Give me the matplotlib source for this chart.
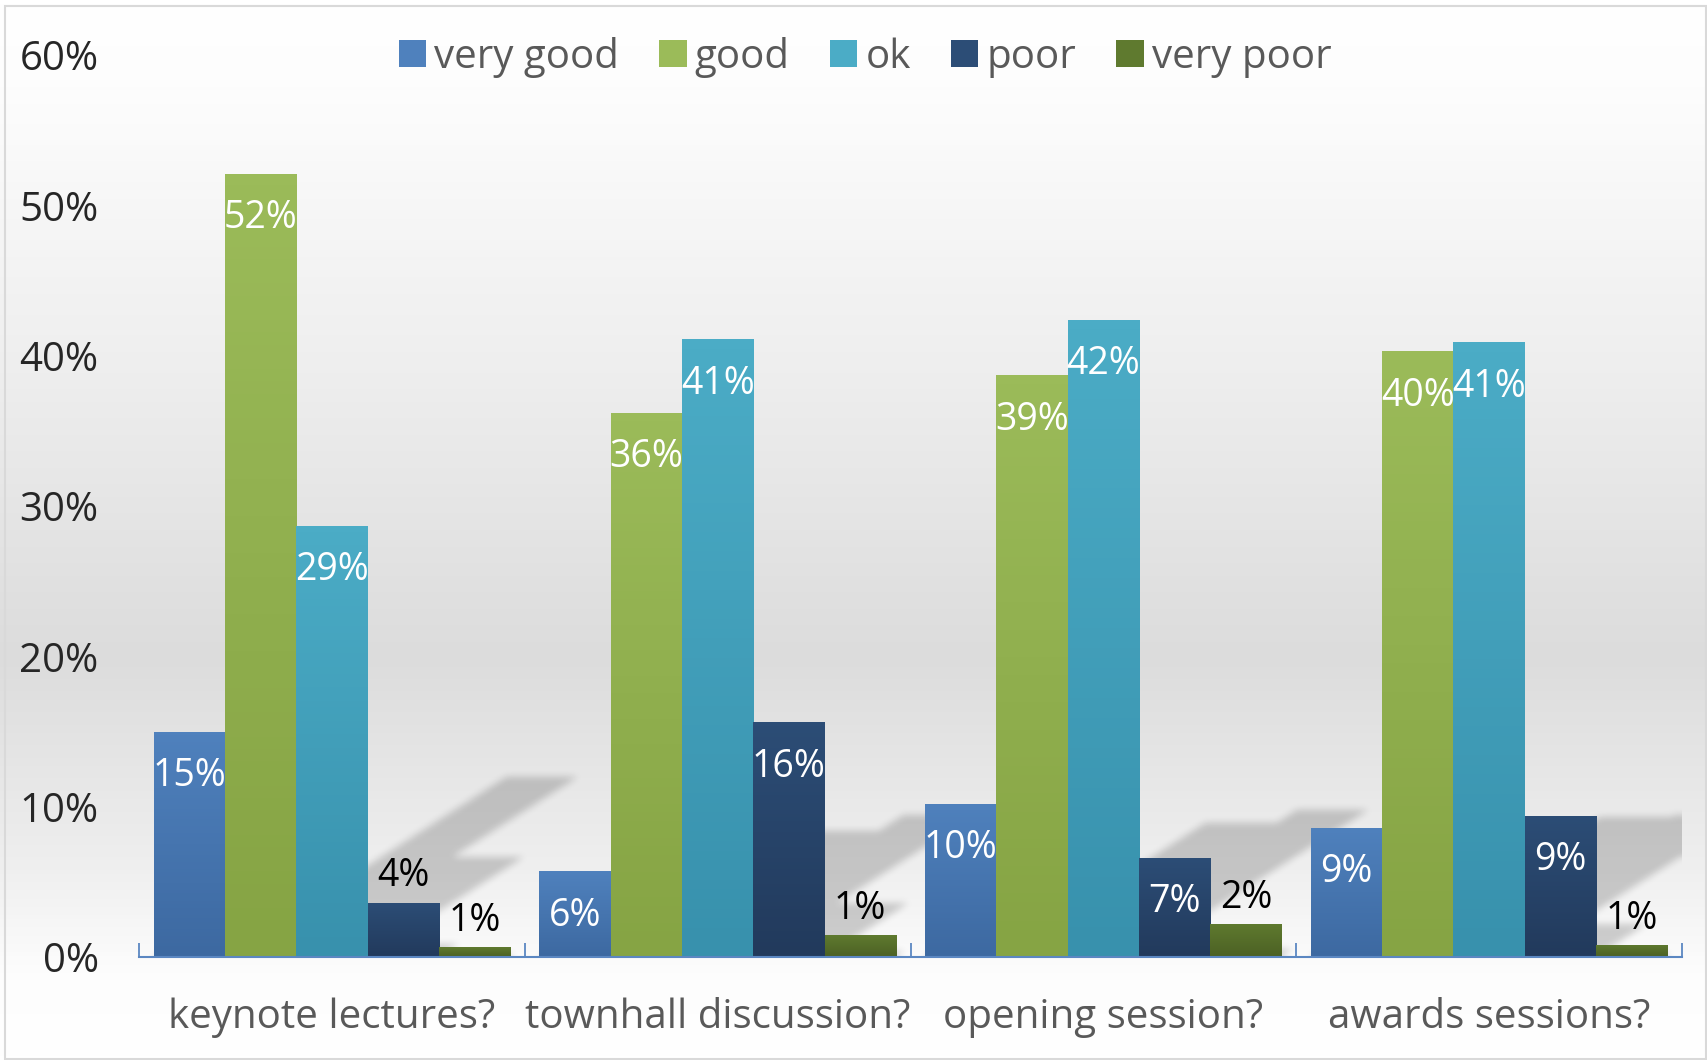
import numpy as np
import matplotlib
matplotlib.use("Agg")
import matplotlib.pyplot as plt
from matplotlib.colors import LinearSegmentedColormap
from matplotlib.patches import Patch, Rectangle

plt.rcParams['font.family'] = ['Open Sans', 'DejaVu Sans']

# data (percent)
categories = ['keynote lectures?', 'townhall discussion?', 'opening session?', 'awards sessions?']
series = ['very good', 'good', 'ok', 'poor', 'very poor']
very_good = [15.0, 5.7, 10.2, 8.6]
good = [52.1, 36.2, 38.7, 40.3]
ok = [28.7, 41.1, 42.4, 40.9]
poor = [3.6, 15.6, 6.6, 9.4]
very_poor = [0.65, 1.45, 2.2, 0.8]
values = [very_good, good, ok, poor, very_poor]
y_ticks = [0, 10, 20, 30, 40, 50, 60]

# (top, bottom) colours of each series' gradient
colors = [('#4f81bd', '#3d69a1'), ('#9bbb59', '#86a444'), ('#4bacc6', '#3891ad'),
          ('#2c4d76', '#223a5c'), ('#5f7a2f', '#4c6124')]


def box_blur(a, r, axis):
    # simple box blur along one axis using cumulative sums
    pad = [(0, 0), (0, 0)]
    pad[axis] = (r + 1, r)
    c = np.cumsum(np.pad(a, pad, mode='edge'), axis=axis)
    n = a.shape[axis]
    hi = np.take(c, np.arange(2 * r + 1, 2 * r + 1 + n), axis=axis)
    lo = np.take(c, np.arange(0, n), axis=axis)
    return (hi - lo) / (2 * r + 1)


W, H = 1707, 1060
fig = plt.figure(figsize=(W / 100, H / 100), dpi=100)

# chart background gradient
bg = fig.add_axes([0, 0, 1, 1], zorder=-10)
bg_cmap = LinearSegmentedColormap.from_list('bg', [
    (0.0, '#ffffff'), (0.08, '#fdfdfd'), (0.35, '#eeeeee'), (0.62, '#dcdcdc'),
    (0.82, '#efefef'), (0.92, '#fdfdfd'), (1.0, '#ffffff')])
bg.imshow(np.linspace(0, 1, 256)[:, None], cmap=bg_cmap, aspect='auto', extent=[0, 1, 0, 1])
bg.set_xlim(0, 1)
bg.set_ylim(0, 1)
bg.axis('off')
bg.add_patch(Rectangle((5 / W, 1 / H), 1 - 6.5 / W, 1 - 6.5 / H, fill=False,
                       edgecolor='#d9d9d9', linewidth=1.5))

left, right, bottom, top = 139, 1682, 957, 55
ax = fig.add_axes([left / W, 1 - bottom / H, (right - left) / W, (bottom - top) / H])
ax.patch.set_alpha(0)

n = len(series)
x = np.arange(len(categories))
width = 1 / (n + 0.41)
xmin, xmax, ymin, ymax = -0.5, len(categories) - 0.5, 0, 60
shadow_scale = 0.23
shadow_shear = 0.061  # categories per percent of shadow height

# raster for the perspective shadows
nx, ny = right - left, bottom - top
gx = np.linspace(xmin, xmax, nx)[None, :]
gy = np.linspace(ymin, ymax, ny)[:, None]
mask = np.zeros((ny, nx))

for i, (name, vals) in enumerate(zip(series, values)):
    pos = x + (i - (n - 1) / 2) * width
    c_top, c_bot = colors[i]
    bars = ax.bar(pos, vals, width, color=c_top, linewidth=0, zorder=3, label=name)
    cm = LinearSegmentedColormap.from_list('g', [c_bot, c_top])
    for b, v in zip(bars, vals):
        x0, x1 = b.get_x(), b.get_x() + b.get_width()
        sh = v * shadow_scale
        u = gx - shadow_shear * gy
        mask[(gy <= sh) & (u >= x0) & (u <= x1)] = 1.0
        # vertical gradient fill
        im = ax.imshow(np.linspace(0, 1, 64)[:, None], cmap=cm, origin='lower',
                       aspect='auto', extent=[x0, x1, 0, v], zorder=3.5)
        im.set_clip_path(b)
        # data label
        cx = b.get_x() + b.get_width() / 2
        if v >= 5:
            ax.annotate(f'{round(v)}%', (cx, v), xytext=(0, -32), textcoords='offset points',
                        ha='center', va='center', color='white', fontsize=27, zorder=5)
        else:
            ax.annotate(f'{round(v)}%', (cx, v), xytext=(0, 19), textcoords='offset points',
                        ha='center', va='center', color='black', fontsize=27, zorder=5)

for _ in range(3):
    mask = box_blur(mask, 3, 0)
    mask = box_blur(mask, 3, 1)
rgba = np.zeros((ny, nx, 4))
rgba[..., 3] = mask * 0.18
ax.imshow(rgba, origin='lower', aspect='auto', extent=[xmin, xmax, ymin, ymax],
          zorder=1, interpolation='bilinear')

ax.set_xlim(xmin, xmax)
ax.set_ylim(ymin, ymax)
ax.set_yticks(y_ticks)
ax.set_yticklabels([f'{t}%' for t in y_ticks])
ax.tick_params(axis='y', length=0, pad=29, labelsize=29, labelcolor='#262626')

axis_blue = '#5b87c2'
ax.set_xticks(np.arange(-0.5, len(categories)), minor=False)
ax.set_xticklabels([])
ax.tick_params(axis='x', which='major', direction='in', length=10, width=1.3, color=axis_blue)
ax.set_xticks(x, minor=True)
ax.set_xticklabels(categories, minor=True)
ax.tick_params(axis='x', which='minor', length=0, pad=29, labelsize=29, labelcolor='#595959')

for s in ['top', 'right', 'left']:
    ax.spines[s].set_visible(False)
ax.spines['bottom'].set_color(axis_blue)
ax.spines['bottom'].set_linewidth(1.5)
ax.spines['bottom'].set_zorder(6)

handles = [Patch(facecolor=colors[i][0], label=series[i]) for i in range(n)]
leg = fig.legend(handles=handles, loc='center', bbox_to_anchor=(865 / W, 1 - 57 / H),
                 ncol=n, frameon=False, fontsize=29, handlelength=0.68, handleheight=0.68,
                 handletextpad=0.2, columnspacing=1.0, borderaxespad=0)
for t in leg.get_texts():
    t.set_color('#595959')

fig.savefig('out.png', dpi=100)
